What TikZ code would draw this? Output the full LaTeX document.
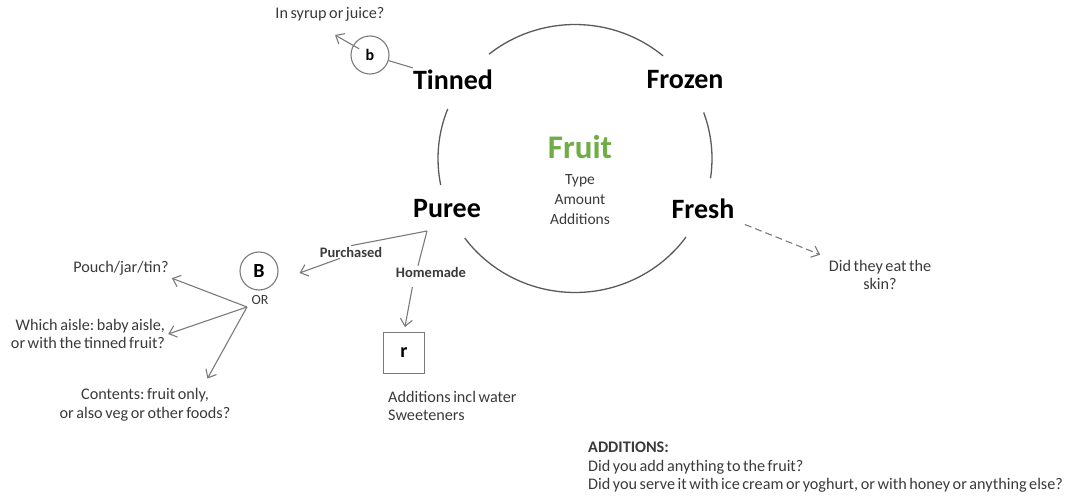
\documentclass[tikz,border=0pt]{standalone}
\usepackage{fontspec}
\setmainfont{Carlito}[WordSpace=0.7]
\usetikzlibrary{arrows.meta}
\definecolor{txt}{HTML}{3A3A3A}
\definecolor{ln}{HTML}{7A7A7A}
\definecolor{ring}{HTML}{5A5A5A}
\definecolor{fruitgreen}{HTML}{70AD47}
\tikzset{
  x=1pt, y=-1pt,
  big/.style={font=\fontsize{28}{30}\selectfont\bfseries, text=black, inner sep=2pt},
  small/.style={font=\fontsize{16.2}{18.5}\selectfont, text=txt, inner sep=3pt},
  tag/.style={font=\fontsize{14.5}{16}\selectfont\bfseries, text=txt, fill=white, inner sep=1pt},
  ball/.style={draw=ln, line width=1.1pt, circle, inner sep=0pt, text=black},
  line/.style={draw=ln, line width=1.1pt},
  ringarc/.style={draw=ring, line width=1.3pt},
  arr/.style={line, -{Straight Barb[length=7pt,width=12pt,line width=1.1pt]}},
  darr/.style={arr, dashed, dash pattern=on 7pt off 4pt},
}
\frenchspacing
\begin{document}
\begin{tikzpicture}
\useasboundingbox (0,0) rectangle (1077,503);

% the ring of fruit types: four arcs, open where the labels sit
\coordinate (ringc) at (575,158.5);
\draw[ringarc] (ringc) ++(-128.9:137 and 134) arc[start angle=-128.9, end angle=-50, x radius=137, y radius=134];
\draw[ringarc] (ringc) ++(-158.3:137 and 134) arc[start angle=-158.3, end angle=-191.4, x radius=137, y radius=134];
\draw[ringarc] (ringc) ++(-20.1:137 and 134) arc[start angle=-20.1, end angle=8.5, x radius=137, y radius=134];
\draw[ringarc] (ringc) ++(-216.4:137 and 134) arc[start angle=-216.4, end angle=-324.1, x radius=137, y radius=134];
\node[big] (tinned) at (453,80) {Tinned};
\node[big] (frozen) at (685,80) {Frozen};
\node[big] (puree) at (447,209) {Puree};
\node[big] (fresh) at (703,209) {Fresh};

% centre text
\node[font=\fontsize{33}{35}\selectfont\bfseries, text=fruitgreen] (fruit) at (580,147) {Fruit};
\node[small, align=center, font=\fontsize{15.5}{20}\selectfont] (attrs) at (580,200) {Type\\Amount\\Additions};

% tinned branch
\node[ball, minimum size=38pt, font=\fontsize{16}{18}\selectfont\bfseries] (b) at (370,55) {b};
\node[small] (syrup) at (330,14) {In syrup or juice?};
\coordinate (syrupTip) at (335,35);
\draw[line] (tinned) -- (b);
\draw[arr, shorten <=-7pt] (b) -- (syrupTip);

% fresh branch
\node[small, align=center] (skin) at (880,275) {Did they eat the\\skin?};
\draw[darr, shorten <=9pt, shorten >=6pt] (fresh.south east) -- (skin.north west);

% puree branch
\coordinate (fork) at (427,231);
\node[tag] (purch) at (351,252) {Purchased};
\node[tag] (home) at (431,272) {Homemade};
\node[ball, minimum size=38pt, font=\fontsize{20}{22}\selectfont\bfseries] (B) at (259,271) {B};
\coordinate (Bin) at ([shift={(21pt,-2pt)}]B.east);
\node[draw=ln, line width=1.1pt, minimum size=41pt, inner sep=0pt, font=\fontsize{20}{22}\selectfont\bfseries] (r) at (404,353) {r};
\draw[line] (fork) -- (purch.north);
\draw[arr] ([xshift=-11pt]purch.south) -- (Bin);
\draw[line] (fork) -- ([xshift=-13pt]home.north);
\draw[arr, shorten <=9pt, shorten >=5pt] ([xshift=-17pt]home.south) -- (r.north);
\node[small, anchor=north west, align=left] (homeadd) at (385,388) {Additions incl water\\Sweeteners};

% purchased questions
\node[small, font=\fontsize{14}{16}\selectfont] (or) at (260,300) {OR};
\coordinate (hub) at (247,307);
\node[small] (pouch) at (121,268) {Pouch/jar/tin?};
\node[small, align=right] (aisle) at (88,334) {Which aisle: baby aisle,\\or with the tinned fruit?};
\node[small, align=center] (contents) at (145,405) {Contents: fruit only,\\or also veg or other foods?};
\draw[arr] (hub) -- (pouch.south east);
\draw[arr] (hub) -- (aisle.east);
\draw[arr, shorten >=8pt] (hub) -- ([xshift=-30pt]contents.north east);

% additions note
\node[small, anchor=north west, align=left] (note) at (585,439) {\textbf{ADDITIONS:}\\Did you add anything to the fruit?\\Did you serve it with ice cream or yoghurt, or with honey or anything else?};
\end{tikzpicture}
\end{document}
